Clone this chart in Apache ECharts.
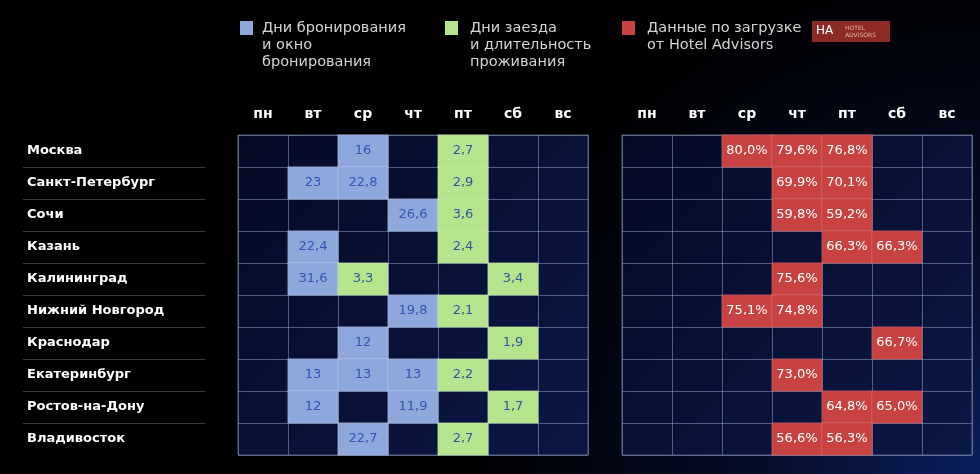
<!DOCTYPE html>
<html>
<head>
<meta charset="utf-8">
<script src="https://cdn.jsdelivr.net/npm/echarts@6/dist/echarts.min.js"></script>
<style>
  html, body { margin: 0; padding: 0; background: #000; }
  #main { width: 980px; height: 474px; }
</style>
</head>
<body>
<div id="main"></div>
<script>
// categories
var days = ['пн', 'вт', 'ср', 'чт', 'пт', 'сб', 'вс'];
var cities = ['Москва', 'Санкт-Петербург', 'Сочи', 'Казань', 'Калининград',
  'Нижний Новгород', 'Краснодар', 'Екатеринбург', 'Ростов-на-Дону', 'Владивосток'];

// [dayIndex, cityIndex, value]
var bookingDays = [
  [2, 0, 16],
  [1, 1, 23], [2, 1, 22.8],
  [3, 2, 26.6],
  [1, 3, 22.4],
  [1, 4, 31.6],
  [3, 5, 19.8],
  [2, 6, 12],
  [1, 7, 13], [2, 7, 13], [3, 7, 13],
  [1, 8, 12], [3, 8, 11.9],
  [2, 9, 22.7]
];
var stayDays = [
  [4, 0, 2.7],
  [4, 1, 2.9],
  [4, 2, 3.6],
  [4, 3, 2.4],
  [2, 4, 3.3], [5, 4, 3.4],
  [4, 5, 2.1],
  [5, 6, 1.9],
  [4, 7, 2.2],
  [5, 8, 1.7],
  [4, 9, 2.7]
];
var loadData = [
  [2, 0, 80.0], [3, 0, 79.6], [4, 0, 76.8],
  [3, 1, 69.9], [4, 1, 70.1],
  [3, 2, 59.8], [4, 2, 59.2],
  [4, 3, 66.3], [5, 3, 66.3],
  [3, 4, 75.6],
  [2, 5, 75.1], [3, 5, 74.8],
  [5, 6, 66.7],
  [3, 7, 73.0],
  [4, 8, 64.8], [5, 8, 65.0],
  [3, 9, 56.6], [4, 9, 56.3]
];

var FONT = 'DejaVu Sans';
var lineCol = 'rgba(150,165,205,0.5)';
var cellBg = {
  type: 'linear', x: 0, y: 0, x2: 1, y2: 1,
  colorStops: [{ offset: 0, color: '#050b26' }, { offset: 1, color: '#0b1745' }]
};

function commaNum(v) { return String(v).replace('.', ','); }

function dayAxis(i) {
  return {
    type: 'category', gridIndex: i, data: days, position: 'top',
    axisLine: { show: false }, axisTick: { show: false },
    axisLabel: { color: '#fff', fontFamily: FONT, fontWeight: 'bold', fontSize: 14, margin: 14 },
    splitLine: { show: true, lineStyle: { color: lineCol, width: 1 } }
  };
}
function cityAxis(i) {
  return {
    type: 'category', gridIndex: i, data: cities, inverse: true,
    axisLine: { show: false }, axisTick: { show: false }, axisLabel: { show: false },
    splitLine: { show: true, lineStyle: { color: lineCol, width: 1 } }
  };
}
function cellGrid(left) {
  return {
    left: left, top: 135, width: 350, height: 320, show: true,
    backgroundColor: cellBg, borderColor: lineCol, borderWidth: 1
  };
}

var chart = echarts.init(document.getElementById('main'));
var option = {
  backgroundColor: {
    type: 'radial', x: 1.0, y: 1.0, r: 1.1,
    colorStops: [
      { offset: 0, color: '#0c1f5c' },
      { offset: 0.45, color: '#050c26' },
      { offset: 1, color: '#000000' }
    ]
  },
  grid: [
    cellGrid(238),
    cellGrid(622),
    { left: 23, top: 135, width: 182, height: 320 }
  ],
  xAxis: [
    dayAxis(0),
    dayAxis(1),
    { type: 'value', gridIndex: 2, show: false }
  ],
  yAxis: [
    cityAxis(0),
    cityAxis(1),
    {
      type: 'category', gridIndex: 2, data: cities, inverse: true,
      axisLine: { show: false }, axisTick: { show: false },
      axisLabel: { inside: true, margin: 4, color: '#fff', fontFamily: FONT, fontWeight: 'bold', fontSize: 13 },
      splitLine: { show: true, showMinLine: false, showMaxLine: false,
        lineStyle: { color: 'rgba(255,255,255,0.22)', width: 1 } }
    }
  ],
  graphic: [
    { type: 'rect', left: 240, top: 21, shape: { width: 13, height: 14 }, style: { fill: '#8fa8dc' } },
    { type: 'text', left: 262, top: 20, style: { text: 'Дни бронирования\nи окно\nбронирования',
        fill: '#d4d4d4', font: '14.5px ' + FONT, lineHeight: 17 } },
    { type: 'rect', left: 445, top: 21, shape: { width: 13, height: 14 }, style: { fill: '#b5e48c' } },
    { type: 'text', left: 470, top: 20, style: { text: 'Дни заезда\nи длительность\nпроживания',
        fill: '#d4d4d4', font: '14.5px ' + FONT, lineHeight: 17 } },
    { type: 'rect', left: 622, top: 21, shape: { width: 13, height: 14 }, style: { fill: '#c94242' } },
    { type: 'text', left: 647, top: 20, style: { text: 'Данные по загрузке\nот Hotel Advisors',
        fill: '#d4d4d4', font: '14.5px ' + FONT, lineHeight: 17 } },
    { type: 'rect', left: 812, top: 21, shape: { width: 78, height: 21 }, style: { fill: '#8c2a25' } },
    { type: 'text', left: 816, top: 25, style: { text: 'НА', fill: '#fff', font: '12px ' + FONT } },
    { type: 'text', left: 845, top: 25, style: { text: 'HOTEL\nADVISORS', fill: '#e6b3ab',
        font: '6px ' + FONT, lineHeight: 7 } }
  ],
  series: [
    {
      name: 'Дни бронирования и окно бронирования', type: 'heatmap',
      xAxisIndex: 0, yAxisIndex: 0, data: bookingDays,
      itemStyle: { color: '#8fa8dc', borderColor: 'rgba(255,255,255,0.2)', borderWidth: 1 },
      label: { show: true, color: '#3553b5', fontFamily: FONT, fontSize: 13,
        formatter: function (p) { return commaNum(p.value[2]); } },
      emphasis: { disabled: true }
    },
    {
      name: 'Дни заезда и длительность проживания', type: 'heatmap',
      xAxisIndex: 0, yAxisIndex: 0, data: stayDays,
      itemStyle: { color: '#b5e48c', borderColor: 'rgba(255,255,255,0.2)', borderWidth: 1 },
      label: { show: true, color: '#2e56a0', fontFamily: FONT, fontSize: 13,
        formatter: function (p) { return commaNum(p.value[2]); } },
      emphasis: { disabled: true }
    },
    {
      name: 'Данные по загрузке от Hotel Advisors', type: 'heatmap',
      xAxisIndex: 1, yAxisIndex: 1, data: loadData,
      itemStyle: { color: '#c94242', borderColor: 'rgba(255,255,255,0.15)', borderWidth: 1 },
      label: { show: true, color: '#fff', fontFamily: FONT, fontSize: 13,
        formatter: function (p) { return p.value[2].toFixed(1).replace('.', ',') + '%'; } },
      emphasis: { disabled: true }
    }
  ]
};
chart.setOption(option);
window.addEventListener('resize', function () { chart.resize(); });
</script>
</body>
</html>
